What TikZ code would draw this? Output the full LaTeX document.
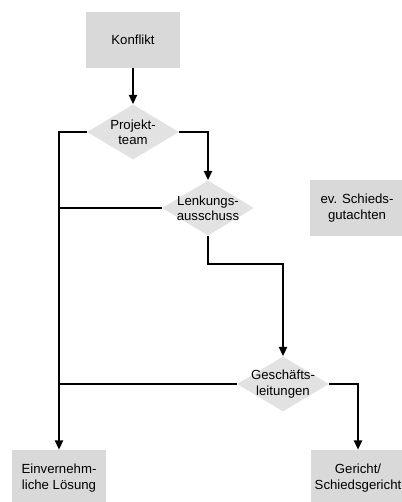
\documentclass[tikz,border=0pt]{standalone}
\usepackage{fontspec}
\setmainfont{Liberation Sans}
\usetikzlibrary{shapes.geometric,arrows.meta}
\definecolor{boxgray}{RGB}{217,217,217}
\definecolor{decgray}{RGB}{226,226,226}

\begin{document}
\begin{tikzpicture}[
    x=0.75pt, y=-0.75pt,
    every node/.style={font=\fontsize{9.9}{11.4}\selectfont, align=center},
    stepc/.style={fill=boxgray, minimum width=70.5pt, minimum height=42pt, inner sep=0pt},
    decision/.style={diamond, fill=decgray, minimum width=69pt, minimum height=41.25pt, inner sep=0pt},
    line/.style={line width=1.5pt},
    flow/.style={line, -{Triangle[length=7pt,width=6pt]}},
]

    \useasboundingbox (0,0) rectangle (401,502);

    \node[stepc] (konflikt) at (133,40) {Konflikt};

    \node[decision, label={center:Projekt-\\team}] (projekt) at (133,132) {};
    \node[decision, label={center:Lenkungs-\\ausschuss}] (lenkung) at (208,208) {};
    \node[decision, label={center:Geschäfts-\\leitungen}] (gl) at (283,384) {};

    \node[stepc] (gutachten) at (357,208) {ev. Schieds-\\gutachten};
    \node[stepc] (loesung) at (59,478) {Einvernehm-\\liche Lösung};
    \node[stepc] (gericht) at (358,478) {Gericht/\\Schiedsgericht};

    \draw[flow] (konflikt) -- (projekt);
    \draw[flow] (projekt.east) -| (lenkung.north);
    \draw[flow] (lenkung.south) -- ++(0,28) -| (gl.north);
    \draw[flow] (gl.east) -| (gericht.north);

    % left side: every level can end in agreement
    \draw[flow] (projekt.west) -| (loesung.north);
    \draw[line] (lenkung.west) -- (lenkung.west -| loesung.north);
    \draw[line] (gl.west) -- (gl.west -| loesung.north);

\end{tikzpicture}
\end{document}
